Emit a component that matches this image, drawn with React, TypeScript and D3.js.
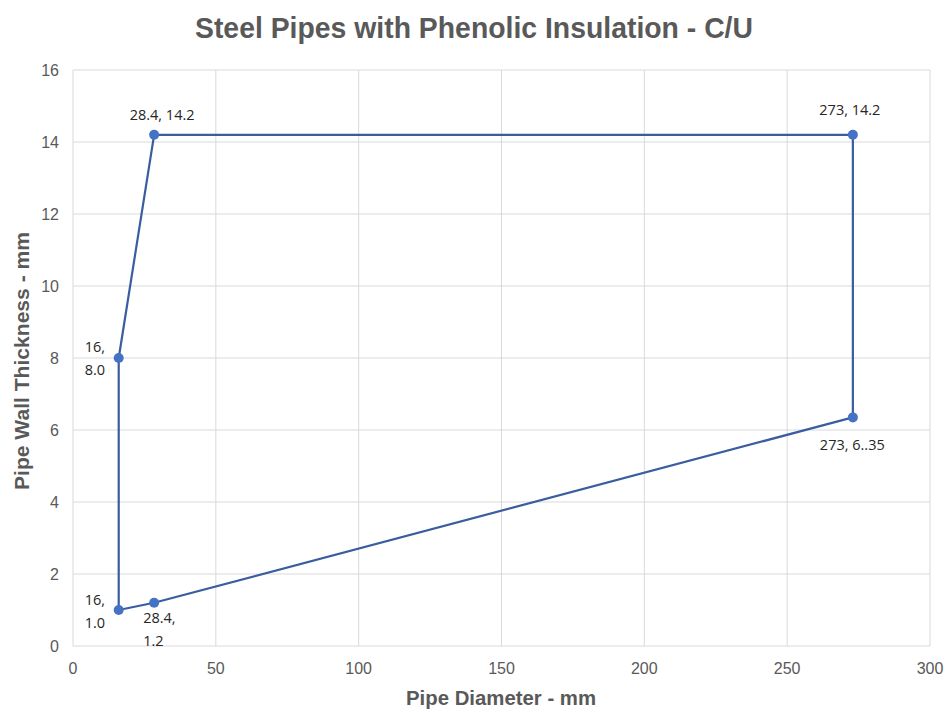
import { useEffect, useRef } from "react";
import * as d3 from "d3";

// outline of the C/U region, closed back to the first point
const diameters = [16, 28.4, 273, 273, 28.4, 16, 16];
const thicknesses = [8.0, 14.2, 14.2, 6.35, 1.2, 1.0, 8.0];
const pointLabels = [["16,", "8.0"], ["28.4, 14.2"], ["273, 14.2"], ["273, 6..35"], ["28.4,", "1.2"], ["16,", "1.0"]];
const xTicks = [0, 50, 100, 150, 200, 250, 300];
const yTicks = [0, 2, 4, 6, 8, 10, 12, 14, 16];

// label placement relative to each point: dx, dy of first baseline, anchor
const labelPos: [number, number, string][] = [
  [-34, -6, "start"],
  [8, -15, "middle"],
  [-3, -20, "middle"],
  [-33, 33, "start"],
  [-11, 20, "start"],
  [-34, -5, "start"],
];

export default function App() {
  const svgRef = useRef<SVGSVGElement | null>(null);

  useEffect(() => {
    document.body.style.margin = "0";
    document.body.style.overflow = "hidden";

    const width = 949;
    const height = 713;
    const left = 73, right = 930, top = 70, bottom = 646;

    const svg = d3.select(svgRef.current);
    svg.selectAll("*").remove();
    svg.attr("width", width).attr("height", height);

    svg.append("rect").attr("width", width).attr("height", height).attr("fill", "#fff");

    const x = d3.scaleLinear().domain([0, 300]).range([left, right]);
    const y = d3.scaleLinear().domain([0, 16]).range([bottom, top]);

    // gridlines
    svg.append("g")
      .selectAll("line")
      .data(yTicks)
      .join("line")
      .attr("x1", left).attr("x2", right)
      .attr("y1", (d) => y(d)).attr("y2", (d) => y(d))
      .attr("stroke", "#d9d9d9").attr("stroke-width", 1);
    svg.append("g")
      .selectAll("line")
      .data(xTicks)
      .join("line")
      .attr("x1", (d) => x(d)).attr("x2", (d) => x(d))
      .attr("y1", top).attr("y2", bottom)
      .attr("stroke", "#d9d9d9").attr("stroke-width", 1);

    const tickFont = "'Liberation Sans', Arial, sans-serif";
    svg.append("g")
      .selectAll("text")
      .data(xTicks)
      .join("text")
      .attr("x", (d) => x(d)).attr("y", bottom + 28)
      .attr("text-anchor", "middle")
      .attr("font-family", tickFont).attr("font-size", 16).attr("fill", "#595959")
      .text((d) => d);
    svg.append("g")
      .selectAll("text")
      .data(yTicks)
      .join("text")
      .attr("x", left - 14).attr("y", (d) => y(d) + 6)
      .attr("text-anchor", "end")
      .attr("font-family", tickFont).attr("font-size", 16).attr("fill", "#595959")
      .text((d) => d);

    const pts = diameters.map((d, i) => [d, thicknesses[i]] as [number, number]);
    const line = d3.line<[number, number]>().x((d) => x(d[0])).y((d) => y(d[1]));

    svg.append("path")
      .attr("d", line(pts) ?? "")
      .attr("fill", "none")
      .attr("stroke", "#3a5da0")
      .attr("stroke-width", 2.2);

    const markers = pts.slice(0, pointLabels.length);
    svg.append("g")
      .selectAll("circle")
      .data(markers)
      .join("circle")
      .attr("cx", (d) => x(d[0])).attr("cy", (d) => y(d[1]))
      .attr("r", 5)
      .attr("fill", "#4472c4");

    const lbl = svg.append("g")
      .selectAll("text")
      .data(markers)
      .join("text")
      .attr("font-family", "'Open Sans', 'Noto Sans', sans-serif")
      .attr("font-size", 14.5)
      .attr("fill", "#262626")
      .attr("text-anchor", (_, i) => labelPos[i][2]);
    lbl.each(function (d, i) {
      const t = d3.select(this);
      pointLabels[i].forEach((s, j) => {
        t.append("tspan")
          .attr("x", x(d[0]) + labelPos[i][0])
          .attr("y", y(d[1]) + labelPos[i][1] + j * 23)
          .text(s);
      });
    });

    svg.append("text")
      .attr("x", 474).attr("y", 38)
      .attr("text-anchor", "middle")
      .attr("font-family", tickFont)
      .attr("font-weight", "bold").attr("font-size", 30).attr("fill", "#595959")
      .attr("textLength", 558).attr("lengthAdjust", "spacingAndGlyphs")
      .text("Steel Pipes with Phenolic Insulation - C/U");

    svg.append("text")
      .attr("x", 501).attr("y", 705)
      .attr("text-anchor", "middle")
      .attr("font-family", tickFont)
      .attr("font-weight", "bold").attr("font-size", 20).attr("fill", "#595959")
      .attr("textLength", 190).attr("lengthAdjust", "spacingAndGlyphs")
      .text("Pipe Diameter - mm");

    svg.append("text")
      .attr("transform", `translate(29, 361) rotate(-90)`)
      .attr("text-anchor", "middle")
      .attr("font-family", tickFont)
      .attr("font-weight", "bold").attr("font-size", 20).attr("fill", "#595959")
      .attr("textLength", 258).attr("lengthAdjust", "spacingAndGlyphs")
      .text("Pipe Wall Thickness - mm");
  }, []);

  return (
    <div>
      <svg ref={svgRef} style={{ display: "block" }}></svg>
    </div>
  );
}
